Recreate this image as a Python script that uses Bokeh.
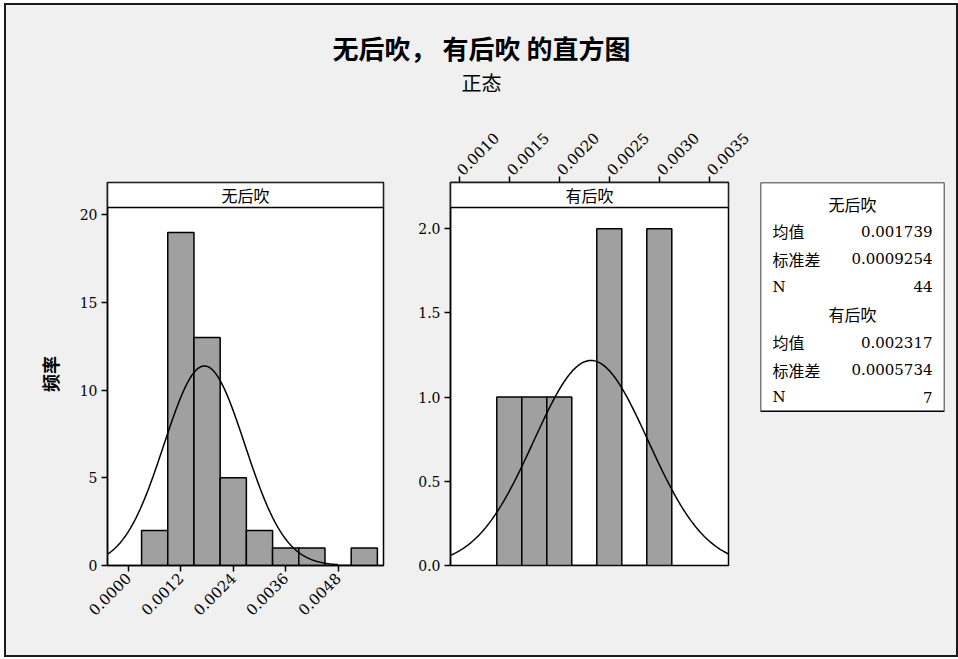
import math
import numpy as np
from bokeh.plotting import figure
from bokeh.models import Range1d, FixedTicker, BoxAnnotation, Label, Title, ColumnDataSource
from bokeh.layouts import row, column
from bokeh.embed import file_html
from bokeh.resources import INLINE
from bokeh.core.properties import value

# ---------------- data ----------------
title_text = "无后吹， 有后吹 的直方图"
subtitle_text = "正态"
y_axis_label = "频率"
group_names = ["无后吹", "有后吹"]

no_bin_centers = [0.0006, 0.0012, 0.0018, 0.0024, 0.0030, 0.0036, 0.0042, 0.0048, 0.0054]
no_counts = [2, 19, 13, 5, 2, 1, 1, 0, 1]
no_bin_width = 0.0006

yes_bin_centers = [0.0015, 0.00175, 0.0020, 0.00225, 0.0025, 0.00275, 0.0030]
yes_counts = [1, 1, 1, 0, 2, 0, 2]
yes_bin_width = 0.00025

means = [0.001739, 0.002317]
std_devs = [0.0009254, 0.0005734]
n_values = [44, 7]
stat_labels = ["均值", "标准差", "N"]

no_x_ticks = [0.0, 0.0012, 0.0024, 0.0036, 0.0048]
no_x_tick_labels = ["0.0000", "0.0012", "0.0024", "0.0036", "0.0048"]
no_y_ticks = [0, 5, 10, 15, 20]
no_y_tick_labels = ["0", "5", "10", "15", "20"]

yes_x_ticks = [0.0010, 0.0015, 0.0020, 0.0025, 0.0030, 0.0035]
yes_x_tick_labels = ["0.0010", "0.0015", "0.0020", "0.0025", "0.0030", "0.0035"]
yes_y_ticks = [0.0, 0.5, 1.0, 1.5, 2.0]
yes_y_tick_labels = ["0.0", "0.5", "1.0", "1.5", "2.0"]

# ---------------- style / layout ----------------
BG = "#f0f0f0"
BAR = "#a0a0a0"
NUM_FONT = "DejaVu Serif"
CJK_FONT = "Noto Sans CJK SC"
FRAME_H = 383      # frame incl. strip, px
STRIP_H = 25       # strip header, px
ROW_H = 537
ROW_PITCH = 27.7   # legend row pitch, px

no_x_lim = (-0.00048, 0.00584)
no_y_data_top = 20.42
no_curve_end = 0.0048
yes_x_lim = (0.000912, 0.003692)
yes_y_data_top = 2.126


def normal_curve(x, mean, sd, n, w):
    return n * w / (sd * math.sqrt(2 * math.pi)) * np.exp(-0.5 * ((x - mean) / sd) ** 2)


def style_axes(p):
    for ax in p.axis:
        ax.axis_line_color = "black"
        ax.axis_line_width = 1.5
        ax.major_tick_line_color = "black"
        ax.major_tick_line_width = 1.5
        ax.major_tick_out = 6
        ax.major_tick_in = 0
        ax.minor_tick_line_color = None
        ax.major_label_text_font = NUM_FONT
        ax.major_label_text_font_size = "14px"
        ax.major_label_text_color = "black"
        ax.major_label_standoff = 4
    p.xaxis.major_label_text_font_size = "15px"
    p.grid.visible = False
    p.outline_line_color = "black"
    p.outline_line_width = 1.5
    p.border_fill_color = BG
    p.background_fill_color = "white"


def panel(width, x_lim, data_top, mb, x_loc, centers, counts, bw, gi,
          curve_start, curve_end, xt, xtl, yt, ytl, name):
    y_top = data_top * FRAME_H / (FRAME_H - STRIP_H)
    p = figure(width=width, height=ROW_H, x_range=Range1d(*x_lim), y_range=Range1d(0, y_top),
               toolbar_location=None, output_backend="svg", x_axis_location=x_loc,
               min_border_left=mb[0], min_border_right=mb[1], min_border_top=mb[2],
               min_border_bottom=mb[3])
    c = np.array(centers)
    src = ColumnDataSource(dict(left=c - bw / 2, right=c + bw / 2, top=counts))
    p.quad(left="left", right="right", bottom=0, top="top", source=src,
           fill_color=BAR, line_color="black", line_width=1.5)
    xs = np.linspace(curve_start, curve_end, 300)
    p.line(xs, normal_curve(xs, means[gi], std_devs[gi], n_values[gi], bw),
           line_color="black", line_width=1.5)
    p.xaxis.ticker = FixedTicker(ticks=xt)
    p.xaxis.major_label_overrides = {t: l for t, l in zip(xt, xtl)}
    p.xaxis.major_label_orientation = math.pi / 4
    p.yaxis.ticker = FixedTicker(ticks=yt)
    p.yaxis.major_label_overrides = {t: l for t, l in zip(yt, ytl)}
    style_axes(p)
    p.add_layout(BoxAnnotation(bottom=data_top, fill_color="white", fill_alpha=1.0,
                               line_color="black", line_width=1.5, line_alpha=1.0))
    p.add_layout(Label(x=(x_lim[0] + x_lim[1]) / 2, y=(data_top + y_top) / 2, text=name,
                       text_align="center", text_baseline="middle",
                       text_font=CJK_FONT, text_font_size="16px", text_color="black"))
    return p


left = panel(404, no_x_lim, no_y_data_top, (101, 27, 64, 90), "below",
             no_bin_centers, no_counts, no_bin_width, 0, no_x_lim[0], no_curve_end,
             no_x_ticks, no_x_tick_labels, no_y_ticks, no_y_tick_labels, group_names[0])
left.yaxis.axis_label = y_axis_label
left.yaxis.axis_label_text_font = CJK_FONT
left.yaxis.axis_label_text_font_size = "18px"
left.yaxis.axis_label_text_font_style = "bold"
left.yaxis.axis_label_text_color = "black"
left.yaxis.axis_label_standoff = 14

right = panel(345, yes_x_lim, yes_y_data_top, (40, 27, 64, 90), "above",
              yes_bin_centers, yes_counts, yes_bin_width, 1, yes_x_lim[0], yes_x_lim[1],
              yes_x_ticks, yes_x_tick_labels, yes_y_ticks, yes_y_tick_labels, group_names[1])

# ---- statistics box (row index -> negative y) ----
rows_y, rows_txt, val_y, val_txt, head_y, head_txt = [], [], [], [], [], []
for gi, g in enumerate(group_names):
    base = gi * 4
    head_y.append(-base)
    head_txt.append(g)
    vals = [f"{means[gi]:.4g}", f"{std_devs[gi]:.4g}", str(n_values[gi])]
    for k, (lab, v) in enumerate(zip(stat_labels, vals)):
        rows_y.append(-(base + k + 1))
        rows_txt.append(lab)
        val_y.append(-(base + k + 1))
        val_txt.append(v)

n_rows_total = len(head_y) + len(rows_y)
top_pad = 0.76
leg = figure(width=201, height=ROW_H, x_range=Range1d(-0.075, 1.075),
             y_range=Range1d(top_pad - FRAME_H / ROW_PITCH, top_pad),
             toolbar_location=None, output_backend="svg", x_axis_type=None, y_axis_type=None,
             min_border_left=5, min_border_right=12, min_border_top=64, min_border_bottom=90)
leg.grid.visible = False
leg.outline_line_color = None
leg.border_fill_color = BG
leg.background_fill_color = BG
leg.add_layout(BoxAnnotation(bottom=-(n_rows_total - 0.5), fill_color="white", fill_alpha=1.0,
                             line_color="black", line_width=1.5, line_alpha=1.0, level="underlay"))
leg.text(x=[0.5] * len(head_y), y=head_y, text=head_txt, text_align="center",
         text_baseline="middle", text_font=value(CJK_FONT), text_font_size="16px",
         text_color="black")
cjk_rows = [(y, t) for y, t in zip(rows_y, rows_txt) if t != "N"]
n_rows = [(y, t) for y, t in zip(rows_y, rows_txt) if t == "N"]
leg.text(x=[0.0] * len(cjk_rows), y=[r[0] for r in cjk_rows], text=[r[1] for r in cjk_rows],
         text_align="left", text_baseline="middle", text_font=value(CJK_FONT),
         text_font_size="16px", text_color="black")
leg.text(x=[0.0] * len(n_rows), y=[r[0] for r in n_rows], text=[r[1] for r in n_rows],
         text_align="left", text_baseline="middle", text_font=value(NUM_FONT),
         text_font_size="15px", text_color="black")
leg.text(x=[1.0] * len(val_y), y=val_y, text=val_txt, text_align="right",
         text_baseline="middle", text_font=value(NUM_FONT), text_font_size="15px",
         text_color="black")

# ---- title ----
top = figure(width=950, height=113, x_range=Range1d(0, 1), y_range=Range1d(0, 1),
             toolbar_location=None, output_backend="svg", x_axis_type=None, y_axis_type=None,
             min_border_top=91, min_border_bottom=0, min_border_left=0, min_border_right=0)
top.grid.visible = False
top.outline_line_color = None
top.border_fill_color = BG
top.background_fill_color = BG
top.add_layout(Title(text=subtitle_text, align="center", text_font=CJK_FONT,
                     text_font_size="20px", text_font_style="normal", text_color="black",
                     standoff=0), "above")
top.add_layout(Title(text=title_text, align="center", text_font=CJK_FONT,
                     text_font_size="26px", text_font_style="bold", text_color="black",
                     standoff=0), "above")

layout = column(top, row(left, right, leg),
                styles={"border": "2px solid #1a1a1a", "margin": "3px 0 0 4px",
                        "background-color": BG})

with open("out.html", "w") as f:
    f.write(file_html(layout, INLINE))
